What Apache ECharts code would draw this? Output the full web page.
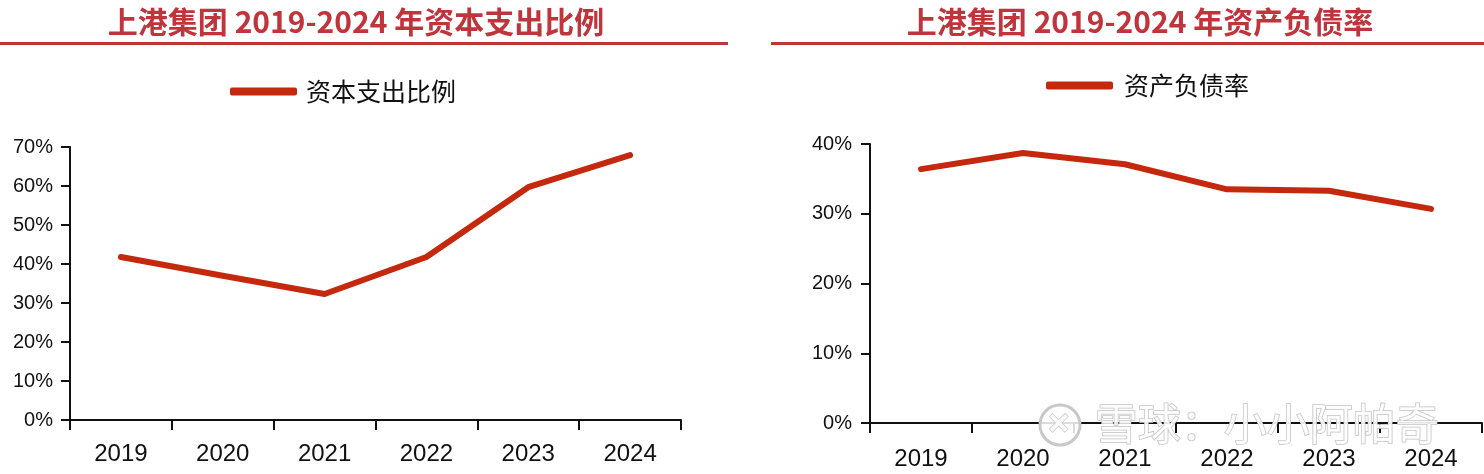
<!DOCTYPE html>
<html>
<head>
<meta charset="utf-8">
<script src="https://cdn.jsdelivr.net/npm/echarts@6/dist/echarts.min.js"></script>
<style>
html,body{margin:0;padding:0;background:#fff;}
#chart{width:1484px;height:474px;}
</style>
</head>
<body>
<div id="chart"></div>
<script>
// ---- data ----
const years = ['2019', '2020', '2021', '2022', '2023', '2024'];
const capexRatio = [41.8, 37.0, 32.3, 41.8, 59.7, 67.9];   // 资本支出比例 (%)
const debtRatio = [36.4, 38.7, 37.1, 33.5, 33.3, 30.7];    // 资产负债率 (%)
const leftTitle = '上港集团 2019-2024 年资本支出比例';
const rightTitle = '上港集团 2019-2024 年资产负债率';
const leftSeriesName = '资本支出比例';
const rightSeriesName = '资产负债率';
const watermark = '雪球：小小阿帕奇';

const RED_LINE = '#c4290e';
const TITLE_RED = '#c0343c';
const CJK = '"Noto Sans CJK SC", sans-serif';
const LAT = '"Liberation Sans", Arial, sans-serif';

const chart = echarts.init(document.getElementById('chart'));

function yAxis(gi, max, fs, margin) {
  return {
    type: 'value', gridIndex: gi, min: 0, max: max, interval: 10,
    splitLine: { show: false },
    axisLine: { show: true, lineStyle: { color: '#111', width: 2 } },
    axisTick: { show: true, length: 9, lineStyle: { color: '#111', width: 2 } },
    axisLabel: { formatter: '{value}%', color: '#111', fontSize: fs, fontFamily: LAT, margin: margin }
  };
}
function xAxis(gi, margin) {
  return {
    type: 'category', gridIndex: gi, data: years, boundaryGap: true,
    axisLine: { show: true, lineStyle: { color: '#111', width: 2 } },
    axisTick: { show: true, length: 10, interval: 0, alignWithLabel: false, lineStyle: { color: '#111', width: 2 } },
    axisLabel: { color: '#111', fontSize: 24, fontFamily: LAT, margin: margin, interval: 0 }
  };
}

const option = {
  backgroundColor: '#fff',
  animation: false,
  title: [
    { text: leftTitle, left: 351, top: 2, textAlign: 'center',
      textStyle: { color: TITLE_RED, fontSize: 30, fontWeight: 'bold', fontFamily: CJK } },
    { text: rightTitle, left: 1135, top: 2, textAlign: 'center',
      textStyle: { color: TITLE_RED, fontSize: 30, fontWeight: 'bold', fontFamily: CJK } }
  ],
  legend: [
    { data: [leftSeriesName], left: 230, top: 79, padding: 0, itemWidth: 67, itemHeight: 8, icon: 'roundRect',
      textStyle: { fontSize: 25, color: '#111', fontFamily: CJK, padding: [0, 0, 0, 4] } },
    { data: [rightSeriesName], left: 1046, top: 73, padding: 0, itemWidth: 67, itemHeight: 8, icon: 'roundRect',
      textStyle: { fontSize: 25, color: '#111', fontFamily: CJK, padding: [0, 0, 0, 6] } }
  ],
  grid: [
    { left: 70, top: 147, width: 611, height: 273, containLabel: false },
    { left: 870, top: 144, width: 612, height: 279, containLabel: false }
  ],
  xAxis: [xAxis(0, 22), xAxis(1, 24)],
  yAxis: [yAxis(0, 70, 20, 17), yAxis(1, 40, 20, 18)],
  series: [
    { name: leftSeriesName, type: 'line', xAxisIndex: 0, yAxisIndex: 0, data: capexRatio,
      showSymbol: false, symbol: 'none', color: RED_LINE,
      lineStyle: { color: RED_LINE, width: 6, cap: 'round', join: 'round' } },
    { name: rightSeriesName, type: 'line', xAxisIndex: 1, yAxisIndex: 1, data: debtRatio,
      showSymbol: false, symbol: 'none', color: RED_LINE,
      lineStyle: { color: RED_LINE, width: 6, cap: 'round', join: 'round' } }
  ],
  graphic: [
    { type: 'line', shape: { x1: 0, y1: 43.5, x2: 728, y2: 43.5 }, style: { stroke: TITLE_RED, lineWidth: 3 }, silent: true },
    { type: 'line', shape: { x1: 771, y1: 43.5, x2: 1484, y2: 43.5 }, style: { stroke: TITLE_RED, lineWidth: 3 }, silent: true },
    { type: 'circle', shape: { cx: 1060, cy: 425, r: 20 }, z: 100,
      style: { fill: 'rgba(255,255,255,0.85)', stroke: '#c8c8c8', lineWidth: 3 }, silent: true },
    { type: 'text', left: 1046, top: 408, z: 101,
      style: { text: '✕', fill: 'rgba(255,255,255,0.9)', stroke: '#c8c8c8', lineWidth: 1.5, font: 'bold 28px ' + CJK }, silent: true },
    { type: 'text', left: 1094, top: 401, z: 100,
      style: { text: watermark, fill: 'rgba(255,255,255,0.88)', stroke: '#c4c4c4', lineWidth: 1.5,
               font: '43px ' + CJK }, silent: true }
  ]
};
chart.setOption(option);
</script>
</body>
</html>
